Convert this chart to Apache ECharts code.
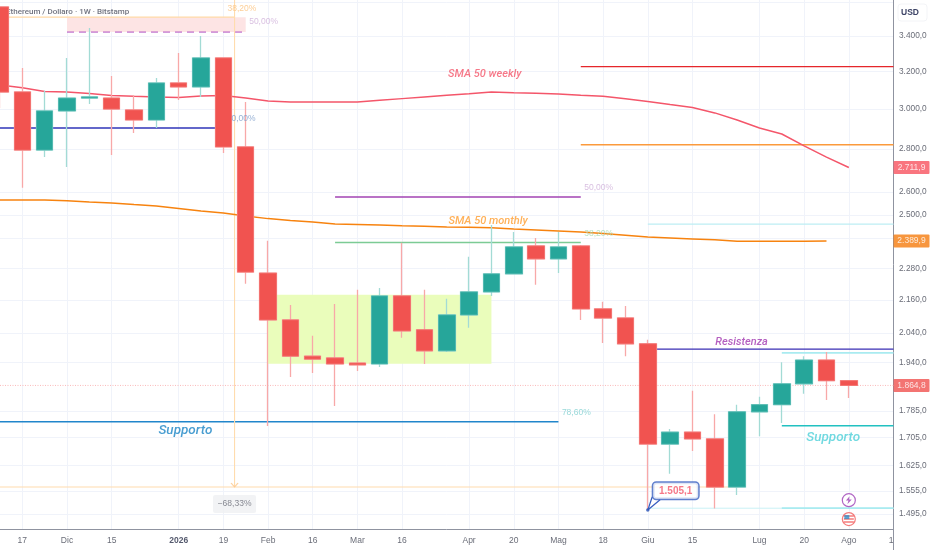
<!DOCTYPE html>
<html><head><meta charset="utf-8">
<style>html,body{margin:0;padding:0;background:#fff}#c{width:932px;height:550px}</style>
<script src="https://cdn.jsdelivr.net/npm/echarts@6/dist/echarts.min.js"></script>
</head><body><div id="c"></div>
<script>
// Weekly axis labels (one per candle slot)
const weekLabels = ['10','17','24','Dic','8','15','22','29','2026','12','19','26','Feb','9','16','23','Mar','9','16','23','30','Apr','13','20','27','Mag','11','18','25','Giu','8','15','22','29','Lug','13','20','27','Ago','10','17'];
const labeledWeeks = [1,3,5,8,10,12,14,16,18,21,23,25,27,29,31,34,36,38,40];
// Candles: open, close, low, high
const candles = [
[3574,3088,3004,3574],[3088,2795,2619,3218],[2795,2989,2761,3094],[2989,3056,2715,3274],
[3056,3062,3025,3447],[3056,2999,2771,3174],[2994,2943,2878,3072],[2943,3136,2903,3163],
[3136,3115,3046,3302],[3115,3274,3062,3400],[3274,2810,2780,3274],[2810,2266,2221,3035],
[2262,2087,1739,2391],[2087,1961,1892,2141],[1961,1951,1905,2031],[1955,1935,1800,2145],
[1938,1932,1912,2198],[1935,2175,1925,2205],[2175,2048,2024,2383],[2052,1979,1935,2198],
[1979,2105,1975,2164],[2105,2190,2059,2326],[2190,2259,2175,2457],[2259,2366,2259,2428],
[2370,2318,2217,2403],[2318,2366,2262,2428],[2370,2127,2087,2374],[2127,2094,2006,2153],
[2094,2003,1961,2138],[2003,1686,1505.1,2017],[1686,1721,1602,1730],[1721,1701,1666,1848],
[1701,1566,1509,1775],[1566,1782,1545,1804],[1782,1804,1709,1829],[1804,1870,1748,1941],
[1870,1948,1838,1961],[1948,1880,1819,1975],[1880,1864.8,1825,1880]];
const smaWeekly = [3125,3110,3091,3088,3080,3070,3065,3062,3059,3067,3070,3056,3041,3035,3035,3035,3035,3044,3053,3062,3071,3079,3088,3084,3081,3078,3071,3065,3052,3038,3022,3007,2979,2943,2903,2873,2815,2761,2711.9];
const smaMonthly = [2565,2565,2565,2561,2556,2552,2545,2539,2528,2517,2508,2495,2484,2476,2470,2461,2459,2457,2454,2452,2449,2447,2445,2440,2436,2432,2428,2421,2414,2407,2403,2399,2395,2389,2389,2389,2389,2389.9];
// Price axis
const priceTicks = [3600,3400,3200,3000,2800,2600,2500,2400,2280,2160,2040,1940,1785,1705,1625,1555,1495];
const hiddenPriceLabels = [3600,2400];
const lastPrice = 1864.8, weeklyLast = 2711.9, monthlyLast = 2389.9;
// Drawn levels: price, from week, to week
const levels = [
[3226,26,40],[2820,26,40],[2578,15,26],[2384,15,26],[2903,0,10],[1752,0,25],[1985,29,40],
[1972,35,40],[1740,35,40],[2461,29,40],[1510,29,40],[1510,35,40],[1566,0,33],[3512,0,10.5]];
const dashedLevel = [3423,3,11];
const fibVertical = [10.5,3617,1566];
// Boxes: from week, to week, price top, price bottom
const rangeBox = [12,22,2179,1936];
const fibBox = [3,11,3512,3423];
// Annotations: week, price, text
const annotations = [
[21.7,3185,'SMA 50 weekly'],[21.85,2474,'SMA 50 monthly'],[8.3,1724,'Supporto'],[37.3,1704,'Supporto'],
[33.2,2010,'Resistenza'],[11.8,3483,'50,00%'],[10.83,3561,'38,20%'],[10.9,2948,'0,00%'],
[26.8,2619,'50,00%'],[26.8,2420,'38,20%'],[25.8,1780,'78,60%'],[10.5,1521,'−68,33%'],[30.25,1556,'1.505,1']];
const calloutTail = [[29.2,1540],[29,1505.1],[29.55,1532]];
const iconPoints = [[38,1531],[38,1482]];
const priceTags = [lastPrice,weeklyLast,monthlyLast];

const font='"Liberation Sans",Arial,sans-serif';
const noteFont='Roboto,"Liberation Sans",sans-serif';
const levelColors=['#e5262b','#fb9a3c','#a243b3','#7ccb95','#2f34b8','#2186cb','#3a2eb4','#a9ebf0','#22c1c1','#bdeef3','#c9f1f5','#a9ebf0','#ffdcae','#ffd9a6'];
const levelWidths=[1.3,1.6,1.3,1.5,1.4,1.3,1.4,1.7,1.3,1.2,1,1.7,1.1,1.1];
const annStyles=[
 {color:'#f4566a',fontSize:11,fontStyle:'italic',fontWeight:500,fontFamily:noteFont},{color:'#ff9d2f',fontSize:11,fontStyle:'italic',fontWeight:500,fontFamily:noteFont},
 {color:'#1a84c6',fontSize:13.5,fontStyle:'italic',fontWeight:500,fontFamily:noteFont},{color:'#4dd0d8',fontSize:13.5,fontStyle:'italic',fontWeight:500,fontFamily:noteFont},
 {color:'#a238b0',fontSize:11,fontStyle:'italic',fontWeight:500,fontFamily:noteFont},{color:'#cfb0d9',fontSize:8.5},{color:'#fcc27c',fontSize:8.5},
 {color:'#7d9ecb',fontSize:8.5},{color:'#cfb0d9',fontSize:8.5},{color:'#a7d8b0',fontSize:8.5},{color:'#7fd0d0',fontSize:8.5},
 {color:'#6a6d78',fontSize:8.5,backgroundColor:'#eff0f3',borderRadius:2,width:43,height:18,align:'center',verticalAlign:'middle',lineHeight:18},
 {color:'#f4566a',fontSize:10,fontWeight:'bold',backgroundColor:'#fff',borderColor:'#3a60c0',borderWidth:1.5,borderRadius:3,width:45,height:16,lineHeight:16,align:'center',verticalAlign:'middle'}];
const tagColors=['#f0514f','#f7525f','#f57c0e'];

const fmtPrice=v=>{const r=Math.round(v*10)/10;const s=r.toFixed(1).split('.');return s[0].replace(/\B(?=(\d{3})+$)/g,'.')+','+s[1];};
const ov=(o)=>Object.assign({type:'line',xAxisIndex:1,yAxisIndex:0,showSymbol:false,symbol:'none',silent:true,animation:false,z:1},o);

const series=[];
series.push(ov({name:'range',data:[],z:1,markArea:{silent:true,z:1,itemStyle:{color:'#eafdbb'},data:[[{coord:[rangeBox[0],rangeBox[2]]},{coord:[rangeBox[1],rangeBox[3]]}]]}}));
series.push(ov({name:'fib',data:[],z:1,markArea:{silent:true,z:1,itemStyle:{color:'#fde4e4'},data:[[{coord:[fibBox[0],fibBox[2]]},{coord:[fibBox[1],fibBox[3]]}]]}}));
levels.forEach((l,i)=>series.push(ov({data:[[l[1],l[0]],[l[2],l[0]]],lineStyle:{color:levelColors[i],width:levelWidths[i]}})));
series.push(ov({data:[[dashedLevel[1],dashedLevel[0]],[dashedLevel[2],dashedLevel[0]]],lineStyle:{color:'#b04dc0',width:1,type:[7,5]}}));
series.push(ov({data:[[fibVertical[0],fibVertical[1]],[fibVertical[0],fibVertical[2]]],lineStyle:{color:'#ffdcae',width:1.1}}));
series.push(ov({data:[[0,lastPrice],[40,lastPrice]],lineStyle:{color:'#fab9b9',width:1,type:[1,1.5]}}));
series.push(ov({name:'SMA 50 weekly',data:smaWeekly.map((v,i)=>[i,v]),lineStyle:{color:'#f4566a',width:1.5}}));
series.push(ov({name:'SMA 50 monthly',data:smaMonthly.map((v,i)=>[i,v]),lineStyle:{color:'#f7830f',width:1.5}}));
// wicks (pale) then bodies (solid, no wick)
series.push({type:'candlestick',name:'wicks',xAxisIndex:0,yAxisIndex:0,barWidth:17,z:2,silent:true,animation:false,
  data:candles,itemStyle:{color:'transparent',color0:'transparent',borderColor:'#a3dbd5',borderColor0:'#f8a8a8',borderWidth:1.3}});
series.push({type:'candlestick',name:'bodies',xAxisIndex:0,yAxisIndex:0,barWidth:17,z:3,silent:true,animation:false,
  data:candles.map(c=>[c[0],c[1],Math.min(c[0],c[1]),Math.max(c[0],c[1])]),
  itemStyle:{color:'#26a69a',color0:'#f15350',borderColor:'#4fb8ae',borderColor0:'#f3706d',borderWidth:0.8}});
// chevron at the end of the fib vertical
series.push({type:'scatter',xAxisIndex:1,yAxisIndex:0,z:4,silent:true,animation:false,symbol:'path://M0 0L5 5L10 0',symbolSize:[7,4],symbolOffset:[0,-2],
  data:[[fibVertical[0],fibVertical[2]]],itemStyle:{color:'transparent',borderColor:'#fcc88c',borderWidth:1}});
// callout tail + dot
series.push(ov({data:calloutTail,z:4,lineStyle:{color:'#3a60c0',width:1.3}}));
series.push({type:'scatter',xAxisIndex:1,yAxisIndex:0,z:4,silent:true,animation:false,symbolSize:3.5,data:[calloutTail[1]],itemStyle:{color:'#2c55b8'}});
// icons
series.push({type:'scatter',xAxisIndex:1,yAxisIndex:0,z:4,silent:true,animation:false,symbolSize:13,data:[iconPoints[0]],itemStyle:{color:'#fff',borderColor:'#9c3fb5',borderWidth:1.2}});
series.push({type:'scatter',xAxisIndex:1,yAxisIndex:0,z:5,silent:true,animation:false,symbol:'path://M6 0L1 6H4.5L3 11L9 4.5H5.5Z',symbolKeepAspect:true,symbolSize:8,data:[iconPoints[0]],itemStyle:{color:'#9c3fb5'}});
series.push({type:'scatter',xAxisIndex:1,yAxisIndex:0,z:4,silent:true,animation:false,symbolSize:13,data:[iconPoints[1]],itemStyle:{color:'#fff',borderColor:'#f15a5a',borderWidth:1.2}});
series.push({type:'scatter',xAxisIndex:1,yAxisIndex:0,z:5,silent:true,animation:false,symbol:'path://M0 0H10V1.5H0Z M0 3H10V4.5H0Z M0 6H10V7.5H0Z',symbolKeepAspect:true,symbolSize:10,data:[iconPoints[1]],itemStyle:{color:'#f15a5a'}});
series.push({type:'scatter',xAxisIndex:1,yAxisIndex:0,z:6,silent:true,animation:false,symbol:'rect',symbolSize:[5,4],symbolOffset:[-2,-2],data:[iconPoints[1]],itemStyle:{color:'#2f8fc8'}});
// text annotations
series.push({type:'scatter',xAxisIndex:1,yAxisIndex:0,z:7,silent:true,animation:false,clip:false,symbolSize:1,itemStyle:{color:'transparent'},
  data:annotations.map((a,i)=>({value:[a[0],a[1]],name:a[2],label:Object.assign({show:true,position:'inside',formatter:a[2],fontFamily:font},annStyles[i])}))});
// price tags on the axis
series.push({type:'scatter',xAxisIndex:1,yAxisIndex:0,z:8,silent:true,animation:false,clip:false,symbolSize:1,itemStyle:{color:'transparent'},
  data:priceTags.map((p,i)=>({value:[40,p],name:fmtPrice(p),label:{show:true,position:'inside',offset:[18,0],formatter:fmtPrice(p),color:'#fff',fontFamily:font,fontSize:8.5,backgroundColor:tagColors[i],width:36,height:13,lineHeight:13,align:'center',verticalAlign:'middle',borderRadius:1}}))});

const chart=echarts.init(document.getElementById('c'),null,{renderer:'canvas'});
chart.setOption({
 animation:false,backgroundColor:'#fff',
 grid:{left:0,right:38.5,top:0,bottom:21,containLabel:false,outerBoundsMode:'none'},
 xAxis:[
  {type:'category',data:weekLabels,boundaryGap:false,
   axisLine:{lineStyle:{color:'#8f93a0',width:1},onZero:false},axisTick:{show:false},
   axisLabel:{interval:(i)=>labeledWeeks.includes(i),hideOverlap:false,showMinLabel:true,showMaxLabel:true,margin:7,fontSize:8.5,color:'#6a6d78',fontFamily:font,
     formatter:(v)=>v==='2026'?'{b|2026}':v,rich:{b:{fontWeight:'bold',fontSize:8.5,color:'#555a6e',fontFamily:font}}},
   splitLine:{show:true,interval:(i)=>labeledWeeks.includes(i),lineStyle:{color:'#f0f3fa',width:1}}},
  {type:'value',min:0,max:40,show:false}
 ],
 yAxis:[{type:'log',logBase:10,min:1457,max:3617,position:'right',
   axisLine:{show:true,onZero:false,lineStyle:{color:'#8f93a0',width:1}},
   axisTick:{show:false,customValues:priceTicks},
   axisLabel:{customValues:priceTicks,margin:5.5,fontSize:8.3,color:'#6a6d78',fontFamily:font,align:'left',
     formatter:(v)=>{const r=Math.round(v);return hiddenPriceLabels.includes(r)?'':fmtPrice(r);}},
   splitLine:{show:true,lineStyle:{color:'#f0f3fa',width:1}},minorSplitLine:{show:false}}],
 graphic:[
  {type:'text',z:1,left:6,top:8,style:{text:'Ethereum / Dollaro · 1W · Bitstamp',fill:'#70737f',font:'500 8px Roboto,sans-serif'}},
  {type:'rect',z:50,silent:true,shape:{x:893.5,y:530,width:39,height:20},style:{fill:'#fff'}},
  {type:'line',z:51,silent:true,shape:{x1:893.5,y1:529,x2:893.5,y2:550},style:{stroke:'#8f93a0',lineWidth:1}},
  {type:'rect',z:52,silent:true,shape:{x:898,y:4,width:29,height:17,r:3},style:{fill:'#fff',stroke:'#f3f4f7'}},
  {type:'text',z:53,left:901,top:8,style:{text:'USD',fill:'#3d4466',font:'bold 8.5px '+font}}
 ],
 series
});
</script></body></html>
